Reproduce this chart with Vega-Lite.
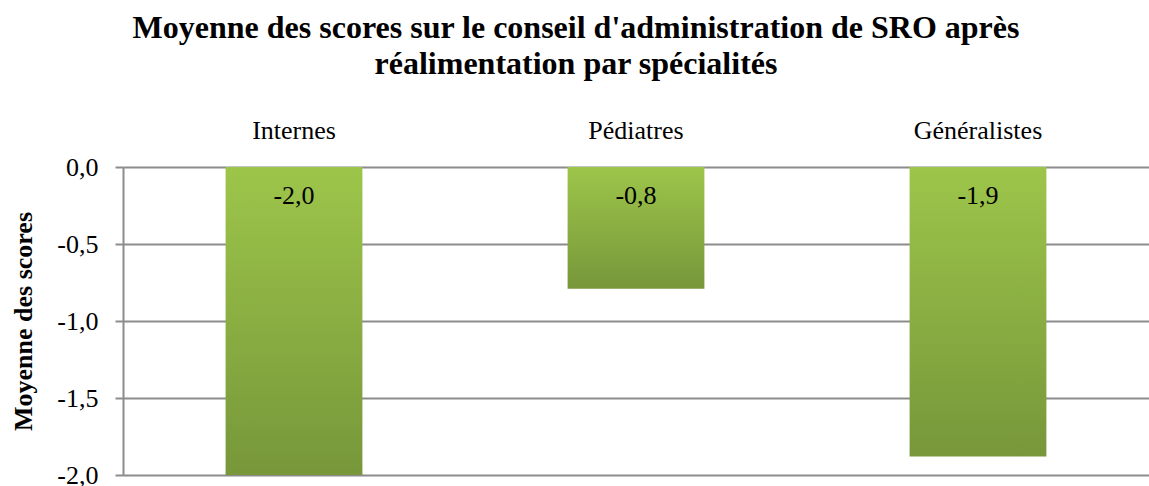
{
  "$schema": "https://vega.github.io/schema/vega-lite/v6.json",
  "autosize": "none",
  "width": 1026,
  "height": 308,
  "padding": {"left": 123, "top": 167, "right": 0, "bottom": 11},
  "background": "white",
  "title": {
    "text": ["Moyenne des scores sur le conseil d'administration de SRO après", "réalimentation par spécialités"],
    "font": "Liberation Serif",
    "fontSize": 32,
    "fontWeight": "bold",
    "color": "#000000",
    "anchor": "middle",
    "frame": "group",
    "dx": -60,
    "offset": 36,
    "lineHeight": 36
  },
  "data": {
    "values": [
      {"specialite": "Internes", "score": -2.0},
      {"specialite": "Pédiatres", "score": -0.79},
      {"specialite": "Généralistes", "score": -1.88}
    ]
  },
  "encoding": {
    "x": {
      "field": "specialite",
      "type": "nominal",
      "sort": null,
      "scale": {"paddingInner": 0.6, "paddingOuter": 0.3},
      "axis": {
        "orient": "top",
        "title": null,
        "domain": false,
        "ticks": false,
        "labelPadding": 24,
        "labelAngle": 0,
        "labelFont": "Liberation Serif",
        "labelFontSize": 26,
        "labelColor": "#000000"
      }
    }
  },
  "layer": [
    {
      "mark": {
        "type": "bar",
        "color": {
          "gradient": "linear",
          "x1": 0, "y1": 0, "x2": 0, "y2": 1,
          "stops": [
            {"offset": 0, "color": "#9dc54a"},
            {"offset": 1, "color": "#77973a"}
          ]
        }
      },
      "encoding": {
        "y": {
          "field": "score",
          "type": "quantitative",
          "scale": {"domain": [-2, 0], "nice": false, "zero": true},
          "axis": {
            "values": [0, -0.5, -1, -1.5, -2],
            "format": ".1f",
            "title": "Moyenne des scores",
            "titleFont": "Liberation Serif",
            "titleFontSize": 26,
            "titleFontWeight": "bold",
            "titleColor": "#000000",
            "titlePadding": 20,
            "labelFont": "Liberation Serif",
            "labelFontSize": 26,
            "labelColor": "#000000",
            "labelPadding": 17,
            "tickSize": 8,
            "tickColor": "#8c8c8c",
            "tickWidth": 2,
            "domainColor": "#8c8c8c",
            "domainWidth": 2,
            "grid": true,
            "gridColor": "#8c8c8c",
            "gridWidth": 2
          }
        }
      }
    },
    {
      "mark": {
        "type": "text",
        "font": "Liberation Serif",
        "fontSize": 26,
        "color": "#000000",
        "baseline": "middle",
        "dy": 29
      },
      "encoding": {
        "y": {"datum": 0, "type": "quantitative"},
        "text": {"field": "score", "type": "quantitative", "format": ".1f"}
      }
    }
  ],
  "config": {
    "view": {"stroke": null},
    "locale": {
      "number": {"decimal": ",", "thousands": " ", "grouping": [3], "currency": ["", " €"], "minus": "-"}
    }
  }
}
